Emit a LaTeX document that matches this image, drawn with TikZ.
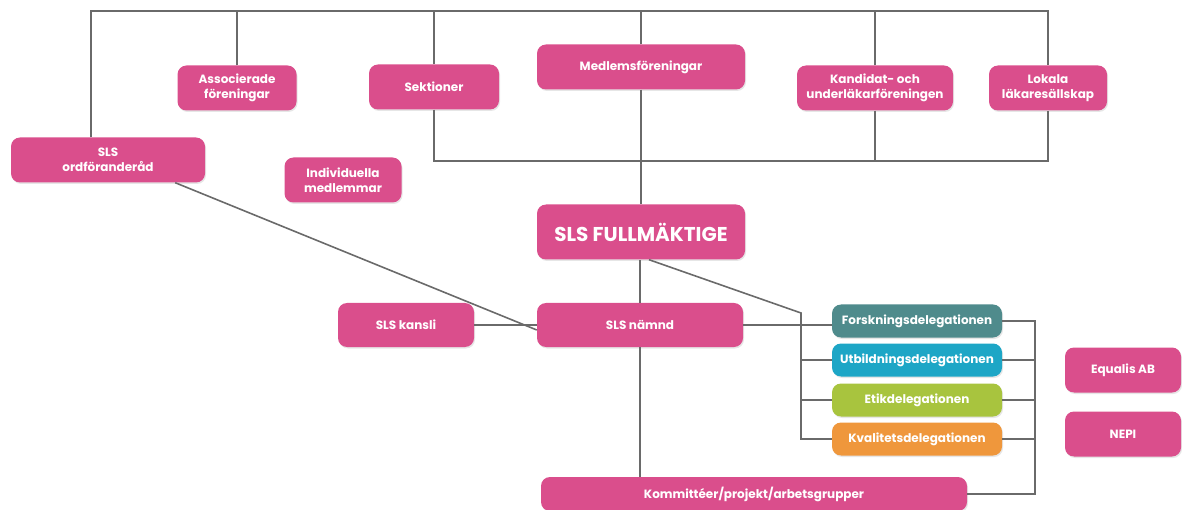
\documentclass[tikz,border=0pt]{standalone}
\usepackage{fontspec}
\setmainfont{Poppins}
\usetikzlibrary{shadows}
\definecolor{pink}{HTML}{DA4E8C}
\definecolor{teal}{HTML}{4F8B8C}
\definecolor{cyanb}{HTML}{1DA6C6}
\definecolor{lime}{HTML}{A8C43E}
\definecolor{orng}{HTML}{EF973C}
\definecolor{ln}{HTML}{6A6A6A}
\tikzset{
  box/.style={fill=pink, rounded corners=9pt, text=white, font=\bfseries\fontsize{12}{14.5}\selectfont,
    align=center, inner sep=0pt, drop shadow={opacity=0.2, shadow xshift=1pt, shadow yshift=-1.5pt}},
  del/.style={box, minimum width=170pt, minimum height=33pt},
  conn/.style={draw=ln, line width=1.6pt},
}
\begin{document}
\begin{tikzpicture}[x=1pt,y=-1pt]
\useasboundingbox (0,0) rectangle (1182,510);
% nodes
\node[box, minimum width=119pt, minimum height=45pt] (ass) at (237,88) {Associerade\\föreningar};
\node[box, minimum width=130pt, minimum height=45pt] (sek) at (434,87) {Sektioner};
\node[box, minimum width=208pt, minimum height=45pt] (med) at (641,67) {Medlemsföreningar};
\node[box, minimum width=156pt, minimum height=45pt] (kan) at (875,88) {Kandidat- och\\underläkarföreningen};
\node[box, minimum width=118pt, minimum height=45pt] (lok) at (1048,88) {Lokala\\läkaresällskap};
\node[box, minimum width=194pt, minimum height=45pt] (ord) at (108,160) {SLS\\ordföranderåd};
\node[box, minimum width=117pt, minimum height=45pt] (ind) at (343,180) {Individuella\\medlemmar};
\node[box, minimum width=208pt, minimum height=55pt, font=\bfseries\fontsize{20}{24}\selectfont] (full) at (641,232) {SLS FULLMÄKTIGE};
\node[box, minimum width=136pt, minimum height=44pt] (kans) at (406,325) {SLS kansli};
\node[box, minimum width=206pt, minimum height=44pt] (nam) at (640,325) {SLS nämnd};
\node[del, fill=teal] (for) at (917,321) {Forskningsdelegationen};
\node[del, fill=cyanb] (utb) at (917,360) {Utbildningsdelegationen};
\node[del, fill=lime] (eti) at (917,400) {Etikdelegationen};
\node[del, fill=orng] (kva) at (917,439) {Kvalitetsdelegationen};
\node[box, minimum width=426pt, minimum height=34pt] (kom) at (754,494) {Kommittéer/projekt/arbetsgrupper};
\node[box, minimum width=116pt, minimum height=45pt] (equ) at (1123,370) {Equalis AB};
\node[box, minimum width=116pt, minimum height=45pt] (nep) at (1123,434) {NEPI};
% helper coordinates
\coordinate (tl) at (91,11);
\coordinate (tr) at (1048,11);
\coordinate (bl) at (434,161);
\coordinate (dj) at (801,313);
\coordinate (rb) at (1035,0);
% top tree
\draw[conn] (tl |- ord.north) -- (tl) -- (tr) -- (lok.north);
\draw[conn] (ass.north) -- (ass.north |- tl);
\draw[conn] (sek.north) -- (sek.north |- tl);
\draw[conn] (med.north) -- (med.north |- tl);
\draw[conn] (kan.north) -- (kan.north |- tl);
\draw[conn] (sek.south) -- (bl) -- (lok.south |- bl) -- (lok.south);
\draw[conn] (kan.south) -- (kan.south |- bl);
\draw[conn] (med.south) -- (full.north);
% lower
\draw[conn] ([xshift=-30pt]ord.south east) -- ([yshift=-5pt]nam.west);
\draw[conn] (kans.east) -- (nam.west);
\draw[conn] (nam.north) -- (nam.north |- full.south);
\draw[conn] (nam.south) -- (nam.south |- kom.north);
\draw[conn] ([xshift=8pt]full.south) -- (dj) -- (dj |- kva.west) -- (kva.west);
\draw[conn] (nam.east) -- (nam.east -| for.west);
\draw[conn] (dj |- utb.west) -- (utb.west);
\draw[conn] (dj |- eti.west) -- (eti.west);
\draw[conn] (for.east) -- (for.east -| rb) -- (rb |- kom.east) -- (kom.east);
\draw[conn] (utb.east) -- (utb.east -| rb);
\draw[conn] (eti.east) -- (eti.east -| rb);
\draw[conn] (kva.east) -- (kva.east -| rb);
\end{tikzpicture}
\end{document}
